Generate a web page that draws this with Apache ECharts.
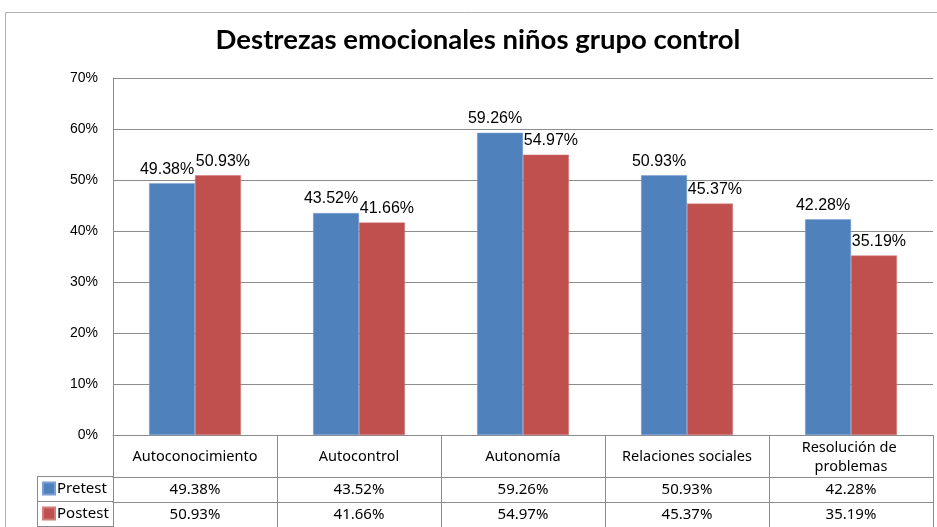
<!DOCTYPE html>
<html>
<head>
<meta charset="utf-8">
<script src="https://cdn.jsdelivr.net/npm/echarts@6/dist/echarts.min.js"></script>
<style>
html, body { margin: 0; padding: 0; background: #fff; }
#chart { width: 937px; height: 527px; }
</style>
</head>
<body>
<div id="chart"></div>
<script>
// datos
var categorias = ['Autoconocimiento', 'Autocontrol', 'Autonomía', 'Relaciones sociales', 'Resolución de problemas'];
var pretest = [49.38, 43.52, 59.26, 50.93, 42.28];
var postest = [50.93, 41.66, 54.97, 45.37, 35.19];
var nombres = ['Pretest', 'Postest'];
var ticksY = [0, 10, 20, 30, 40, 50, 60, 70];

var azul = '#4f81bd';
var rojo = '#c0504d';
var linea = '#8c8c8c';
var fuenteTabla = '"Noto Sans", sans-serif';
var fuenteNum = '"Liberation Sans", Arial, sans-serif';

function pct(v) { return v.toFixed(2) + '%'; }

var myChart = echarts.init(document.getElementById('chart'));

// filas de la tabla de datos bajo el eje
var ejeTabla = function(datos, offset, tick) {
    return {
        type: 'category',
        gridIndex: 0,
        position: 'bottom',
        offset: offset,
        data: datos,
        axisLine: { show: true, lineStyle: { color: linea, width: 1 } },
        axisTick: { show: tick > 0, length: tick, interval: 0, lineStyle: { color: linea } },
        axisLabel: {
            show: tick > 0,
            interval: 0,
            margin: 12.5,
            verticalAlign: 'middle',
            color: '#000',
            fontFamily: fuenteTabla,
            fontSize: 15
        },
        splitLine: { show: false }
    };
};

var leyenda = function(nombre, top) {
    return {
        left: 42,
        top: top,
        padding: 0,
        itemWidth: 12,
        itemHeight: 12,
        icon: 'rect',
        data: [nombre],
        textStyle: { fontFamily: fuenteTabla, fontSize: 15, color: '#000', padding: [0, 0, 0, -3] }
    };
};

var etiqueta = function(dx) {
    return {
        show: true, position: 'top', distance: 6, offset: [dx, 0],
        color: '#000', fontFamily: fuenteNum, fontSize: 16,
        formatter: function(p) { return pct(p.value); }
    };
};

var options = {
    animation: false,
    backgroundColor: '#fff',
    title: {
        text: 'Destrezas emocionales niños grupo control',
        left: 478,
        top: 26,
        padding: 0,
        textAlign: 'center',
        textStyle: { fontFamily: 'Lato, sans-serif', fontWeight: 'bold', fontSize: 27.5, color: '#000' }
    },
    legend: [leyenda(nombres[0], 481), leyenda(nombres[1], 506)],
    grid: { left: 113, right: 4, top: 78, bottom: 92 },
    xAxis: [
        {
            type: 'category',
            data: categorias,
            axisLine: { show: true, lineStyle: { color: linea } },
            axisTick: { show: true, length: 42, interval: 0, lineStyle: { color: linea } },
            axisLabel: {
                interval: 0,
                margin: 22,
                verticalAlign: 'middle',
                color: '#000',
                fontFamily: fuenteTabla,
                fontSize: 14.5,
                lineHeight: 19,
                width: 148,
                overflow: 'break'
            }
        },
        ejeTabla(pretest.map(pct), 42, 25),
        ejeTabla(postest.map(pct), 67, 25),
        ejeTabla(categorias.map(function() { return ''; }), 92, 0)
    ],
    yAxis: {
        type: 'value',
        min: ticksY[0],
        max: ticksY[ticksY.length - 1],
        interval: 10,
        axisLine: { show: true, lineStyle: { color: linea } },
        axisTick: { show: false },
        axisLabel: {
            margin: 15,
            color: '#000',
            fontFamily: fuenteNum,
            fontSize: 14,
            formatter: '{value}%'
        },
        splitLine: { lineStyle: { color: linea, width: 1 } }
    },
    series: [
        {
            name: nombres[0],
            type: 'bar',
            data: pretest,
            barGap: '0%',
            barCategoryGap: '44%',
            itemStyle: { color: azul, borderColor: '#7a9fd0', borderWidth: 0.5 },
            label: etiqueta(-5)
        },
        {
            name: nombres[1],
            type: 'bar',
            data: postest,
            itemStyle: { color: rojo, borderColor: '#d27d7a', borderWidth: 0.5 },
            label: etiqueta(5)
        }
    ],
    graphic: [
        // marco exterior
        { type: 'rect', silent: true, shape: { x: 5.5, y: 12.5, width: 945, height: 530 },
          style: { fill: null, stroke: '#b0b0b0', lineWidth: 1 } },
        // columna de la leyenda de la tabla
        { type: 'line', silent: true, shape: { x1: 37, y1: 476.5, x2: 113, y2: 476.5 }, style: { stroke: linea } },
        { type: 'line', silent: true, shape: { x1: 37, y1: 501.5, x2: 113, y2: 501.5 }, style: { stroke: linea } },
        { type: 'line', silent: true, shape: { x1: 37, y1: 526.5, x2: 113, y2: 526.5 }, style: { stroke: linea } },
        { type: 'line', silent: true, shape: { x1: 37.5, y1: 476, x2: 37.5, y2: 527 }, style: { stroke: linea } }
    ]
};

myChart.setOption(options);
</script>
</body>
</html>
